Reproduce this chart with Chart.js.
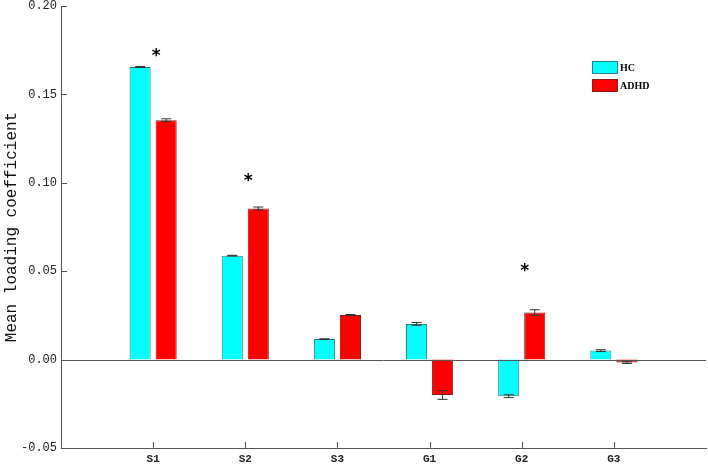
<!DOCTYPE html>
<html>
<head>
<meta charset="utf-8">
<script src="https://cdn.jsdelivr.net/npm/chart.js@4.4.1/dist/chart.umd.min.js"></script>
<style>
  body { margin: 0; background: #fff; }
  canvas { display: block; }
</style>
</head>
<body>
<canvas id="myChart" width="708" height="465"></canvas>
<script>
const categories = ["S1", "S2", "S3", "G1", "G2", "G3"];
const hcValues = [0.1655, 0.0588, 0.0116, 0.0202, -0.0207, 0.0051];
const adhdValues = [0.1354, 0.0855, 0.0252, -0.0200, 0.0266, -0.0017];
const hcErrors = [0.0003, 0.0002, 0.0002, 0.0008, 0.0008, 0.0005];
const adhdErrors = [0.0008, 0.0008, 0.0003, 0.0025, 0.0016, 0.0005];
const starValues = [0.1734, 0.1025, null, null, 0.052, null];
const yTicks = [-0.05, 0.00, 0.05, 0.10, 0.15, 0.20];

// pad with empty slots so S1 sits one step in from the axis
const labels = ["", ...categories, ""];
const pad = arr => [null, ...arr, null];

const axisColor = "#555";
const ctx = document.getElementById("myChart").getContext("2d");

const extras = {
  id: "extras",
  afterDatasetsDraw(chart) {
    const c = chart.ctx;
    const area = chart.chartArea;
    const x = chart.scales.x;
    const y = chart.scales.y;

    c.save();
    // zero line
    c.strokeStyle = axisColor;
    c.lineWidth = 1;
    const y0 = Math.round(y.getPixelForValue(0)) + 0.5;
    c.beginPath();
    c.moveTo(area.left, y0);
    c.lineTo(area.right, y0);
    c.stroke();

    // inward tick marks
    c.beginPath();
    yTicks.forEach(v => {
      const py = Math.round(y.getPixelForValue(v)) + 0.5;
      c.moveTo(area.left, py);
      c.lineTo(area.left + 6, py);
    });
    categories.forEach((cat, i) => {
      const px = Math.round(x.getPixelForValue(i + 1)) + 0.5;
      c.moveTo(px, area.bottom);
      c.lineTo(px, area.bottom - 6);
    });
    c.stroke();

    // error bars
    const errs = [hcErrors, adhdErrors];
    const vals = [hcValues, adhdValues];
    c.strokeStyle = "#333";
    [0, 1].forEach(d => {
      const meta = chart.getDatasetMeta(d);
      categories.forEach((cat, i) => {
        const bar = meta.data[i + 1];
        if (!bar) return;
        const top = y.getPixelForValue(vals[d][i] + errs[d][i]);
        const bot = y.getPixelForValue(vals[d][i] - errs[d][i]);
        c.beginPath();
        c.moveTo(bar.x, top);
        c.lineTo(bar.x, bot);
        c.moveTo(bar.x - 5, top);
        c.lineTo(bar.x + 5, top);
        c.moveTo(bar.x - 5, bot);
        c.lineTo(bar.x + 5, bot);
        c.stroke();
      });
    });

    // significance stars
    c.fillStyle = "#000";
    c.font = "bold 17px 'DejaVu Sans'";
    c.textAlign = "center";
    c.textBaseline = "middle";
    starValues.forEach((v, i) => {
      if (v === null) return;
      c.fillText("*", x.getPixelForValue(i + 1) + 3, y.getPixelForValue(v) + 3.5);
    });

    // legend
    const items = [
      { text: "HC", fill: "#00ffff", border: "#2a7f7f" },
      { text: "ADHD", fill: "#ff0000", border: "#8b1a1a" }
    ];
    c.font = "bold 10px 'Liberation Serif'";
    c.textAlign = "left";
    items.forEach((it, k) => {
      const by = 61 + k * 18;
      c.fillStyle = it.fill;
      c.fillRect(592, by, 26, 13);
      c.strokeStyle = it.border;
      c.strokeRect(592.5, by + 0.5, 25, 12);
      c.fillStyle = "#000";
      c.fillText(it.text, 620, by + 7);
    });
    c.restore();
  }
};

const myChart = new Chart(ctx, {
  type: "bar",
  data: {
    labels,
    datasets: [
      {
        label: "HC",
        data: pad(hcValues),
        backgroundColor: "#00ffff",
        borderColor: "#2a7f7f",
        borderWidth: 1,
        categoryPercentage: 0.565,
        barPercentage: 0.81
      },
      {
        label: "ADHD",
        data: pad(adhdValues),
        backgroundColor: "#ff0000",
        borderColor: "#8b1a1a",
        borderWidth: 1,
        categoryPercentage: 0.565,
        barPercentage: 0.81
      }
    ]
  },
  options: {
    responsive: false,
    animation: false,
    layout: { padding: { top: 6, right: 2, left: 0, bottom: 0 } },
    plugins: {
      legend: { display: false },
      tooltip: { enabled: false }
    },
    scales: {
      x: {
        type: "category",
        offset: false,
        grid: { display: false, drawTicks: false },
        border: { color: axisColor, width: 1 },
        ticks: {
          color: "#222",
          font: { family: "Liberation Mono", size: 11, weight: "bold" },
          padding: 5,
          maxRotation: 0,
          autoSkip: false
        },
        afterFit: s => {
          s.height = 17;
          s.paddingLeft = 0;
          s.paddingRight = 0;
        }
      },
      y: {
        min: -0.05,
        max: 0.2,
        grid: { display: false, drawTicks: false },
        border: { color: axisColor, width: 1 },
        ticks: {
          stepSize: 0.05,
          color: "#222",
          font: { family: "Liberation Mono", size: 12 },
          padding: 4,
          callback: v => v.toFixed(2)
        },
        title: {
          display: true,
          text: "Mean loading coefficient",
          color: "#111",
          font: { family: "Liberation Mono", size: 16 },
          padding: { top: 2, bottom: 0 }
        },
        afterFit: s => {
          s.width = 61;
          s.paddingTop = 0;
          s.paddingBottom = 0;
        }
      }
    }
  },
  plugins: [extras]
});
</script>
</body>
</html>
